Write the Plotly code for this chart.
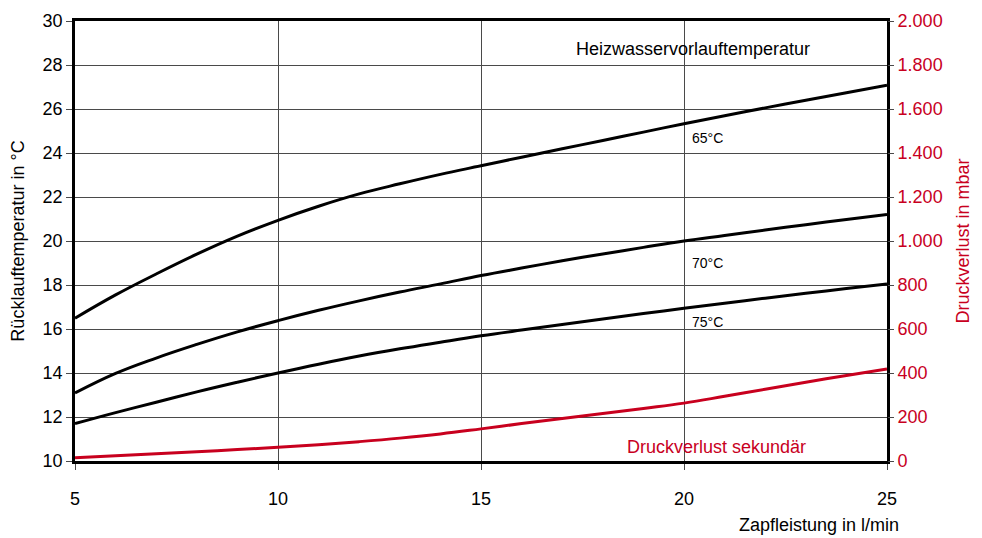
import plotly.graph_objects as go

flow = [5, 6, 7, 8, 9, 10, 11, 12, 13, 14, 15, 16, 17, 18, 19, 20, 21, 22, 23, 24, 25]
t65 = [16.49, 17.55, 18.5, 19.4, 20.22, 20.94, 21.58, 22.14, 22.6, 23.03, 23.42, 23.81, 24.19, 24.57,
       24.95, 25.33, 25.69, 26.05, 26.4, 26.74, 27.08]
t70 = [13.09, 13.98, 14.68, 15.3, 15.87, 16.38, 16.85, 17.28, 17.68, 18.05, 18.43, 18.77, 19.1, 19.41,
       19.71, 20.0, 20.25, 20.5, 20.74, 20.98, 21.21]
t75 = [11.7, 12.2, 12.67, 13.14, 13.58, 14.0, 14.4, 14.77, 15.1, 15.4, 15.69, 15.95, 16.2, 16.45,
       16.7, 16.94, 17.17, 17.4, 17.62, 17.84, 18.05]
dp_mbar = [15, 24, 33, 42, 52, 62, 74, 88, 104, 123, 146, 170, 193, 216, 239, 263, 294, 326, 358, 389, 418]

x_ticks = [5, 10, 15, 20, 25]
y_ticks = [10, 12, 14, 16, 18, 20, 22, 24, 26, 28, 30]
y2_ticks = [0, 200, 400, 600, 800, 1000, 1200, 1400, 1600, 1800, 2000]
y2_text = ["0", "200", "400", "600", "800", "1.000", "1.200", "1.400", "1.600", "1.800", "2.000"]

RED = "#c8001e"
FONT = "Liberation Sans, Arial, sans-serif"
GRID = "#4a4a4a"

fig = go.Figure()
for ys in (t65, t70, t75):
    fig.add_trace(go.Scatter(x=flow, y=ys, mode="lines",
                             line=dict(color="black", width=3, shape="spline", smoothing=1.2),
                             showlegend=False, hoverinfo="skip"))
fig.add_trace(go.Scatter(x=flow, y=dp_mbar, mode="lines", yaxis="y2",
                         line=dict(color=RED, width=3, shape="spline", smoothing=1.2),
                         showlegend=False, hoverinfo="skip"))

fig.update_layout(
    width=982, height=538,
    margin=dict(l=75, r=95, t=21, b=77),
    plot_bgcolor="white", paper_bgcolor="white",
    font=dict(family=FONT, size=18, color="black"),
    xaxis=dict(range=[5, 25], tickvals=x_ticks, showgrid=True, gridcolor=GRID, gridwidth=1.2,
               showline=True, linecolor="black", linewidth=2.5, mirror=True, automargin=False,
               ticks="outside", ticklen=6, tickcolor=GRID, ticklabelstandoff=14,
               zeroline=False, tickfont=dict(size=18)),
    yaxis=dict(range=[10, 30], tickvals=y_ticks, showgrid=True, gridcolor=GRID, gridwidth=1.2,
               showline=True, linecolor="black", linewidth=2.5, mirror=True, automargin=False,
               ticks="outside", ticklen=6, tickcolor=GRID, zeroline=False,
               title=dict(text="Rücklauftemperatur in °C", font=dict(size=18), standoff=14)),
    yaxis2=dict(range=[0, 2000], tickvals=y2_ticks, ticktext=y2_text, overlaying="y", side="right",
                showgrid=False, zeroline=False, ticks="outside", ticklen=6, tickcolor=GRID, automargin=False,
                tickfont=dict(color=RED, size=18),
                title=dict(text="Druckverlust in mbar", font=dict(color=RED, size=18), standoff=14)),
    annotations=[
        dict(x=17.3, y=28.73, xref="x", yref="y", text="Heizwasservorlauftemperatur", showarrow=False,
             xanchor="left", yanchor="middle", font=dict(size=18)),
        dict(x=20.15, y=24.69, xref="x", yref="y", text="65°C", showarrow=False, xanchor="left",
             yanchor="middle", font=dict(size=14)),
        dict(x=20.15, y=19.02, xref="x", yref="y", text="70°C", showarrow=False, xanchor="left",
             yanchor="middle", font=dict(size=14)),
        dict(x=20.15, y=16.3, xref="x", yref="y", text="75°C", showarrow=False, xanchor="left",
             yanchor="middle", font=dict(size=14)),
        dict(x=18.55, y=10.65, xref="x", yref="y", text="Druckverlust sekundär", showarrow=False,
             xanchor="left", yanchor="middle", font=dict(size=18, color=RED)),
        dict(x=1.0, y=-64 / 441, xref="paper", yref="paper", text="Zapfleistung in l/min", showarrow=False,
             xanchor="right", yanchor="middle", xshift=14, font=dict(size=18)),
    ],
)

fig.write_html("out.html", config={"displayModeBar": False},
               post_script="document.body.style.margin='0';document.body.style.overflow='hidden';")
